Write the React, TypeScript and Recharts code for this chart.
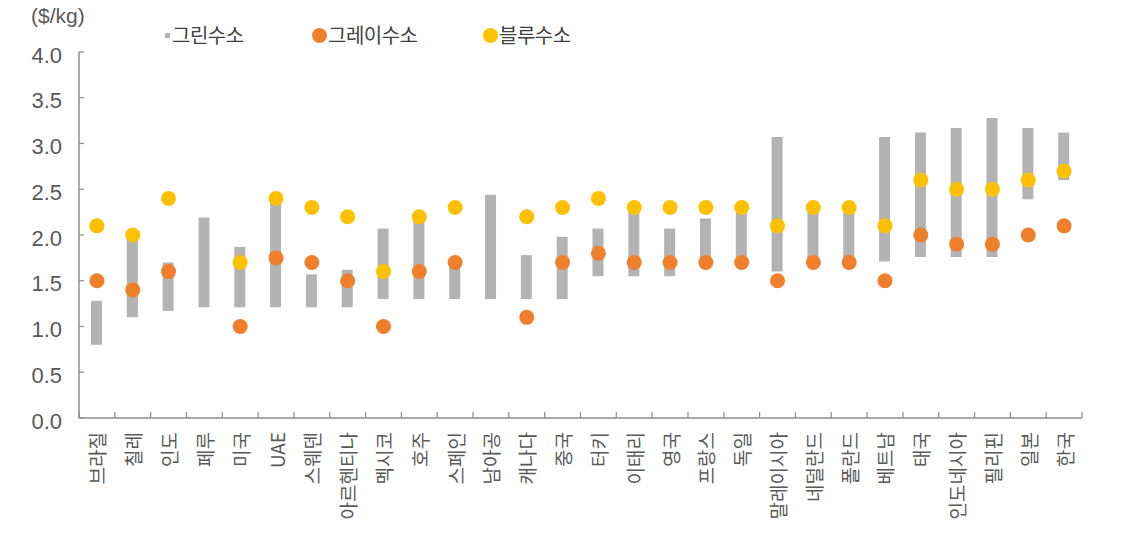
import { Bar, ComposedChart, Line, XAxis, YAxis } from "recharts";

const countries = [
  "브라질", "칠레", "인도", "페루", "미국", "UAE", "스웨덴", "아르헨티나", "멕시코", "호주",
  "스페인", "남아공", "캐나다", "중국", "터키", "이태리", "영국", "프랑스", "독일", "말레이시아",
  "네덜란드", "폴란드", "베트남", "태국", "인도네시아", "필리핀", "일본", "한국",
];

// 그린수소 range (low / high)
const greenLow = [
  0.8, 1.1, 1.17, 1.21, 1.21, 1.21, 1.21, 1.21, 1.3, 1.3,
  1.3, 1.3, 1.3, 1.3, 1.55, 1.55, 1.55, 1.65, 1.65, 1.6,
  1.7, 1.7, 1.71, 1.76, 1.76, 1.76, 2.39, 2.6,
];
const greenHigh = [
  1.28, 2.0, 1.7, 2.19, 1.87, 2.4, 1.57, 1.62, 2.07, 2.2,
  1.7, 2.44, 1.78, 1.98, 2.07, 2.3, 2.07, 2.18, 2.3, 3.07,
  2.3, 2.3, 3.07, 3.12, 3.17, 3.28, 3.17, 3.12,
];
const grayH2 = [
  1.5, 1.4, 1.6, null, 1.0, 1.75, 1.7, 1.5, 1.0, 1.6,
  1.7, null, 1.1, 1.7, 1.8, 1.7, 1.7, 1.7, 1.7, 1.5,
  1.7, 1.7, 1.5, 2.0, 1.9, 1.9, 2.0, 2.1,
];
const blueH2 = [
  2.1, 2.0, 2.4, null, 1.7, 2.4, 2.3, 2.2, 1.6, 2.2,
  2.3, null, 2.2, 2.3, 2.4, 2.3, 2.3, 2.3, 2.3, 2.1,
  2.3, 2.3, 2.1, 2.6, 2.5, 2.5, 2.6, 2.7,
];
const yTicks = [0, 0.5, 1, 1.5, 2, 2.5, 3, 3.5, 4];

const series = [
  { name: "그린수소", color: "#b3b3b3", marker: "square", left: 165 },
  { name: "그레이수소", color: "#f07f2c", marker: "circle", left: 312 },
  { name: "블루수소", color: "#ffc000", marker: "circle", left: 483 },
];

// each country sits in the middle of its slot on a 0..N number axis
const data = countries.map((name, i) => ({
  name,
  pos: i + 0.5,
  green: [greenLow[i], greenHigh[i]],
  gray: grayH2[i],
  blue: blueH2[i],
}));

// boundary ticks at integers, labels at half steps
const xTicks = Array.from({ length: countries.length * 2 + 1 }, (_, i) => i / 2);

const W = 1132;
const H = 537;
const xAxisHeight = 119;
const plotBottom = H - xAxisHeight;

const axisColor = "#8c8c8c";
const textColor = "#595959";
const krFont = '"Noto Sans CJK KR", "Noto Sans", sans-serif';
const numFont = '"Liberation Sans", Arial, sans-serif';

function XTick({ x, payload }: any) {
  const v = payload.value;
  if (Number.isInteger(v)) {
    return <line x1={x} x2={x} y1={plotBottom} y2={plotBottom - 6} stroke={axisColor} strokeWidth={1.2} />;
  }
  const label = countries[Math.floor(v)];
  const ty = plotBottom + 14;
  return (
    <text
      x={x}
      y={ty}
      transform={`rotate(-90, ${x}, ${ty})`}
      textAnchor="end"
      dominantBaseline="central"
      fontFamily={krFont}
      fontSize={19}
      fill={textColor}
    >
      {label}
    </text>
  );
}

function YTick({ x, y, payload }: any) {
  return (
    <g>
      <line x1={x} x2={x + 5} y1={y} y2={y} stroke={axisColor} strokeWidth={1.2} />
      <text x={x - 17} y={y + 3} textAnchor="end" dominantBaseline="central" fontFamily={numFont} fontSize={22} fill={textColor}>
        {payload.value.toFixed(1)}
      </text>
    </g>
  );
}

export default function App() {
  return (
    <div style={{ position: "absolute", left: 0, top: 0, width: W, height: H, background: "#fff" }}>
      <div style={{ position: "absolute", left: 31, top: 4, fontFamily: numFont, fontSize: 21, color: textColor }}>($/kg)</div>
      {series.map((s) => (
        <div
          key={s.name}
          style={{ position: "absolute", left: s.left, top: 22, display: "flex", alignItems: "center", gap: s.marker === "square" ? 2 : 1 }}
        >
          <span
            style={{
              display: "inline-block",
              width: s.marker === "square" ? 5 : 15,
              height: s.marker === "square" ? 5 : 15,
              borderRadius: s.marker === "square" ? 0 : "50%",
              background: s.color,
            }}
          />
          <span style={{ fontFamily: krFont, fontSize: 20, color: "#404040", lineHeight: "26px", letterSpacing: -0.5 }}>
            {s.name}
          </span>
        </div>
      ))}
      <ComposedChart width={W} height={H} data={data} margin={{ top: 52, right: 50, bottom: 0, left: 0 }}>
        <XAxis
          dataKey="pos"
          type="number"
          domain={[0, countries.length]}
          ticks={xTicks}
          interval={0}
          height={xAxisHeight}
          tickSize={0}
          tickMargin={0}
          tickLine={false}
          tick={XTick}
          axisLine={{ stroke: axisColor, strokeWidth: 1.5 }}
          allowDataOverflow
        />
        <YAxis
          domain={[0, 4]}
          ticks={yTicks}
          interval={0}
          width={79}
          tickSize={0}
          tickMargin={0}
          tickLine={false}
          tick={YTick}
          axisLine={{ stroke: axisColor, strokeWidth: 1.5 }}
        />
        <Bar dataKey="green" fill={series[0].color} barSize={11} isAnimationActive={false} />
        <Line
          dataKey="gray"
          stroke="none"
          dot={{ r: 7.5, fill: series[1].color, stroke: "none" }}
          activeDot={false}
          isAnimationActive={false}
        />
        <Line
          dataKey="blue"
          stroke="none"
          dot={{ r: 7.5, fill: series[2].color, stroke: "none" }}
          activeDot={false}
          isAnimationActive={false}
        />
      </ComposedChart>
    </div>
  );
}
